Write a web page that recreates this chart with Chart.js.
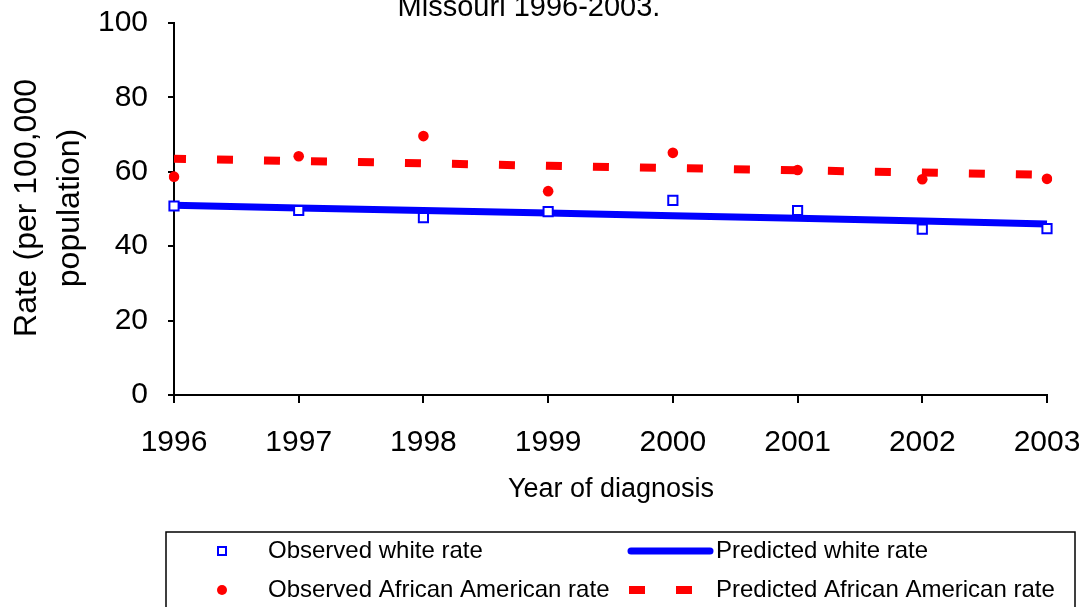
<!DOCTYPE html>
<html>
<head>
<meta charset="utf-8">
<script src="https://cdn.jsdelivr.net/npm/chart.js@4"></script>
<style>
  html, body { margin: 0; padding: 0; background: #fff; }
  #wrap { width: 1085px; height: 607px; position: relative; }
</style>
</head>
<body>
<div id="wrap"><canvas id="rates"></canvas></div>
<script>
// data
var years = ['1996', '1997', '1998', '1999', '2000', '2001', '2002', '2003'];
var obsWhite = [50.8, 49.6, 47.7, 49.3, 52.3, 49.6, 44.6, 44.7];
var obsAfrAm = [58.7, 64.2, 69.6, 54.8, 65.1, 60.5, 58.0, 58.1];
var predWhite = [51.0, 50.3, 49.6, 48.9, 48.2, 47.5, 46.8, 46.0];
var predAfrAm = [63.5, 62.9, 62.3, 61.6, 61.0, 60.4, 59.8, 59.2];
var yTicks = [0, 20, 40, 60, 80, 100];

var FONT = 'Arial, "Liberation Sans", sans-serif';

// title, axis titles and the boxed legend
var decor = {
    id: 'decor',
    afterDraw: function(chart) {
        var ctx = chart.ctx;
        var ds = chart.data.datasets;
        ctx.save();
        ctx.fillStyle = '#000';
        ctx.textBaseline = 'alphabetic';

        // title (top line is cut off in the original)
        ctx.font = '29px ' + FONT;
        ctx.textAlign = 'center';
        ctx.fillText('Missouri 1996-2003.', 529, 16);

        // x title
        ctx.font = '27px ' + FONT;
        ctx.textBaseline = 'middle';
        ctx.fillText('Year of diagnosis', 611, 490);

        // y title, two lines
        ctx.save();
        ctx.translate(0, 208);
        ctx.rotate(-Math.PI / 2);
        ctx.font = '32px ' + FONT;
        ctx.fillText('Rate (per 100,000', 0, 27);
        ctx.fillText('population)', 0, 70);
        ctx.restore();

        // legend box
        ctx.lineWidth = 1.5;
        ctx.strokeStyle = '#000';
        ctx.strokeRect(166, 532, 909, 90);

        ctx.font = '24px ' + FONT;
        ctx.textAlign = 'left';
        var r1 = 551, r2 = 590;

        // observed white: open square
        ctx.lineWidth = 2;
        ctx.strokeStyle = ds[0].borderColor;
        ctx.fillStyle = '#fff';
        ctx.fillRect(218, r1 - 4, 8, 8);
        ctx.strokeRect(218, r1 - 4, 8, 8);
        ctx.fillStyle = '#000';
        ctx.fillText(ds[0].label, 268, r1);

        // observed african american: dot
        ctx.fillStyle = ds[1].backgroundColor;
        ctx.beginPath();
        ctx.arc(222, r2, 5, 0, Math.PI * 2);
        ctx.fill();
        ctx.fillStyle = '#000';
        ctx.fillText(ds[1].label, 268, r2);

        // predicted white: solid line
        ctx.strokeStyle = ds[2].borderColor;
        ctx.lineWidth = 7;
        ctx.lineCap = 'round';
        ctx.beginPath();
        ctx.moveTo(631, r1);
        ctx.lineTo(710, r1);
        ctx.stroke();
        ctx.fillText(ds[2].label, 716, r1);

        // predicted african american: dashes
        ctx.strokeStyle = ds[3].borderColor;
        ctx.lineWidth = 8;
        ctx.lineCap = 'butt';
        ctx.setLineDash(ds[3].borderDash);
        ctx.beginPath();
        ctx.moveTo(629, r2);
        ctx.lineTo(712, r2);
        ctx.stroke();
        ctx.setLineDash([]);
        ctx.fillText(ds[3].label, 716, r2);

        ctx.restore();
    }
};

new Chart(document.getElementById('rates'), {
    type: 'line',
    data: {
        labels: years,
        datasets: [{
            label: 'Observed white rate',
            data: obsWhite,
            showLine: false,
            pointStyle: 'rect',
            pointRadius: 6.5,
            pointBorderWidth: 2,
            borderColor: '#0000ff',
            backgroundColor: '#ffffff',
            pointBackgroundColor: '#ffffff',
            pointBorderColor: '#0000ff'
        }, {
            label: 'Observed African American rate',
            data: obsAfrAm,
            showLine: false,
            pointStyle: 'circle',
            pointRadius: 5.3,
            pointBorderWidth: 0,
            borderColor: '#ff0000',
            backgroundColor: '#ff0000',
            pointBackgroundColor: '#ff0000'
        }, {
            label: 'Predicted white rate',
            data: predWhite,
            borderColor: '#0000ff',
            borderWidth: 7,
            pointRadius: 0,
            tension: 0,
            fill: false
        }, {
            label: 'Predicted African American rate',
            data: predAfrAm,
            borderColor: '#ff0000',
            borderWidth: 8,
            borderDash: [16, 31],
            borderDashOffset: 4,
            borderCapStyle: 'butt',
            pointRadius: 0,
            tension: 0,
            fill: false
        }]
    },
    options: {
        responsive: true,
        maintainAspectRatio: false,
        animation: false,
        events: [],
        layout: { padding: { left: 0, top: 23, right: 38, bottom: 0 } },
        plugins: {
            legend: { display: false },
            title: { display: false },
            tooltip: { enabled: false }
        },
        scales: {
            x: {
                type: 'category',
                offset: false,
                grid: { display: true, drawOnChartArea: false, tickLength: 8, color: '#000', lineWidth: 2 },
                border: { display: true, color: '#000', width: 2 },
                ticks: { color: '#000', font: { size: 30, family: FONT }, padding: 22, maxRotation: 0, autoSkip: false },
                afterFit: function(scale) {
                    scale.height = 212;
                    scale.paddingLeft = 0;
                    scale.paddingRight = 0;
                }
            },
            y: {
                min: 0,
                max: 100,
                afterBuildTicks: function(scale) {
                    scale.ticks = yTicks.map(function(v) { return { value: v }; });
                },
                grid: { display: true, drawOnChartArea: false, tickLength: 6, color: '#000', lineWidth: 2 },
                border: { display: true, color: '#000', width: 2 },
                ticks: { color: '#000', font: { size: 30, family: FONT }, padding: 20 },
                afterFit: function(scale) {
                    scale.width = 174;
                    scale.paddingTop = 0;
                    scale.paddingBottom = 0;
                }
            }
        }
    },
    plugins: [decor]
});
</script>
</body>
</html>
